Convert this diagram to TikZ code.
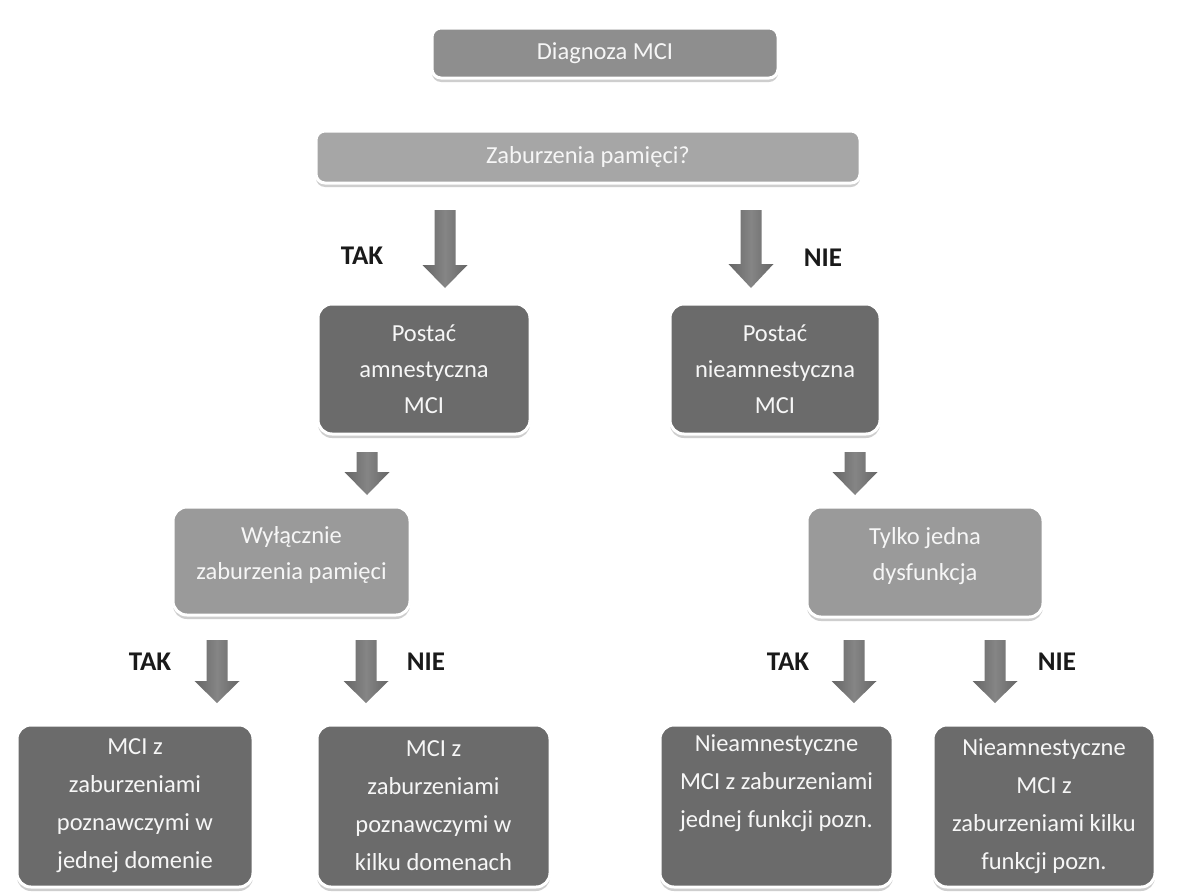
\documentclass[tikz,border=0pt]{standalone}
\usepackage{fontspec}
\setmainfont{Carlito}
\usetikzlibrary{shadows}
\definecolor{cdark}{HTML}{6B6B6B}
\definecolor{cmid}{HTML}{9A9A9A}
\definecolor{ctop}{HTML}{8E8E8E}
\definecolor{clight}{HTML}{A6A6A6}
\definecolor{carrow}{HTML}{666666}
\definecolor{carrowl}{HTML}{858585}
\definecolor{ctext}{HTML}{F6F6F6}
\definecolor{clabel}{HTML}{1A1A1A}
\newcommand{\blockarrow}[4]{%
  \shade[left color=carrow, right color=carrow, middle color=carrowl, shading angle=90]
    (#1-10.5,#2) -- (#1+10.5,#2) -- (#1+10.5,#3) -- (#1+22.5,#3) -- (#1,#4)
    -- (#1-22.5,#3) -- (#1-10.5,#3) -- cycle;}
\begin{document}
\begin{tikzpicture}[x=1pt,y=-1pt,
  box/.style={rectangle, rounded corners=14pt, draw=white, line width=3pt,
    text=ctext, align=center, inner sep=0pt,
    font=\fontsize{24.5}{36}\selectfont,
    drop shadow={opacity=0.35, shadow xshift=0pt, shadow yshift=-4pt, fill=black!55}},
  bar/.style={box, rounded corners=9pt},
  low/.style={font=\fontsize{24.5}{38}\selectfont, minimum height=162pt},
  lbl/.style={text=clabel, font=\fontsize{27}{30}\selectfont\bfseries, inner sep=0pt}]
\useasboundingbox (0,0) rectangle (1204,894);
\fill[white] (0,0) rectangle (1204,894);
% boxes
\node[bar, fill=ctop, minimum width=346pt, minimum height=50pt] (diag) at (605,53) {Diagnoza MCI};
\node[bar, fill=clight, minimum width=544pt, minimum height=52pt] (zab) at (588,157) {Zaburzenia pamięci?};
\node[box, fill=cdark, minimum width=212pt, minimum height=130pt] (amn) at (424,369) {Postać\\amnestyczna\\MCI};
\node[box, fill=cdark, minimum width=210pt, minimum height=130pt] (nieamn) at (775,369) {Postać\\nieamnestyczna\\MCI};
\node[box, fill=cmid, minimum width=237pt, minimum height=108pt, text depth=16pt] (wyl) at (291.5,561) {Wyłącznie\\zaburzenia pamięci};
\node[box, fill=cmid, minimum width=236pt, minimum height=110pt, text depth=16pt] (tyl) at (925,562) {Tylko jedna\\dysfunkcja};
\node[box, low, fill=cdark, minimum width=236pt] (b1) at (135,806) {MCI z\\zaburzeniami\\poznawczymi w\\jednej domenie};
\node[box, low, fill=cdark, minimum width=233pt] (b2) at (433.5,806) {MCI z\\zaburzeniami\\poznawczymi w\\kilku domenach};
\node[box, low, fill=cdark, minimum width=233pt] (b3) at (776.5,806) {Nieamnestyczne\\MCI z zaburzeniami\\jednej funkcji pozn.\\\strut};
\node[box, low, fill=cdark, minimum width=222pt] (b4) at (1044,806) {Nieamnestyczne\\MCI z\\zaburzeniami kilku\\funkcji pozn.};
% arrows
\blockarrow{445}{210}{265}{288}
\blockarrow{751}{210}{264}{288}
\blockarrow{367}{452}{472}{495}
\blockarrow{855}{452}{472}{495}
\blockarrow{217}{640}{681}{703}
\blockarrow{366}{640}{681}{703}
\blockarrow{854}{640}{681}{703}
\blockarrow{995}{640}{681}{703}
% labels
\node[lbl] (tak1) at (362,256) {TAK};
\node[lbl] (nie1) at (823,258) {NIE};
\node[lbl] (tak2) at (150,662) {TAK};
\node[lbl] (nie2) at (426,662) {NIE};
\node[lbl] (tak3) at (788,662) {TAK};
\node[lbl] (nie3) at (1057,662) {NIE};
\end{tikzpicture}
\end{document}
